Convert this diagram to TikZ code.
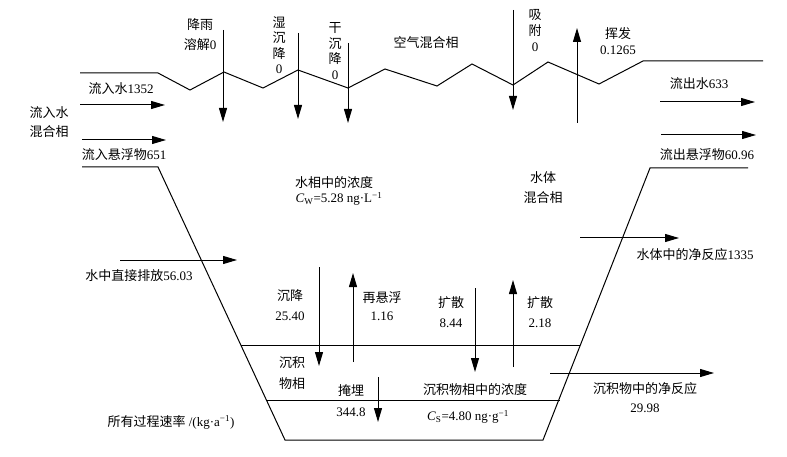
\documentclass[tikz,border=0pt]{standalone}
\usepackage{fontspec}
\setmainfont{Liberation Serif}
\newfontfamily\cjk{Noto Sans CJK SC}
\usetikzlibrary{arrows.meta}
\newcommand\zh[1]{{\cjk #1}}
\begin{document}
\begin{tikzpicture}[x=1pt,y=-1pt,
  lbl/.style={inner sep=0pt, font=\fontsize{13}{#1}\selectfont, align=center},
  lbl/.default=19,
  edgeline/.style={line width=1pt},
  flow/.style={line width=1pt, -{Triangle[length=14pt,width=8pt]}}]
\useasboundingbox (0,0) rectangle (787,457);

% air-water interface
\draw[edgeline] (80,73) -- (158,73) -- (190,90) -- (224,72) -- (263,88) -- (298,70)
  -- (348,88) -- (385,69) -- (437,86) -- (472,64) -- (513,85) -- (548,62)
  -- (599,84) -- (643,61) -- (763,61);

% water body and sediment outline
\draw[edgeline] (82,167) -- (158,167) -- (285,440) -- (543,440) -- (650,168) -- (748,168);
\draw[edgeline] (241,345) -- (580,345);
\draw[edgeline] (266,400) -- (560,400);

% arrow end points
\coordinate (rainA) at (223,30);   \coordinate (rainB) at (223,122);
\coordinate (wetA) at (298,33);    \coordinate (wetB) at (298,119);
\coordinate (dryA) at (348,43);    \coordinate (dryB) at (348,123);
\coordinate (adsA) at (513,10);    \coordinate (adsB) at (513,110);
\coordinate (volA) at (577,123);   \coordinate (volB) at (577,28);
\coordinate (inwA) at (80,105);    \coordinate (inwB) at (165,105);
\coordinate (inssA) at (82,140);   \coordinate (inssB) at (166,140);
\coordinate (outwA) at (660,102);  \coordinate (outwB) at (755,102);
\coordinate (outssA) at (661,135); \coordinate (outssB) at (756,135);
\coordinate (dirA) at (120,260);   \coordinate (dirB) at (237,260);
\coordinate (netwA) at (580,238);  \coordinate (netwB) at (679,238);
\coordinate (setA) at (319,267);   \coordinate (setB) at (319,366);
\coordinate (resA) at (353,362);   \coordinate (resB) at (353,273);
\coordinate (dfaA) at (475,288);   \coordinate (dfaB) at (475,372);
\coordinate (dfbA) at (513,367);   \coordinate (dfbB) at (513,280);
\coordinate (netsA) at (550,373);  \coordinate (netsB) at (714,373);
\coordinate (burA) at (378,377);   \coordinate (burB) at (378,422);

\foreach \a in {rain,wet,dry,ads,vol,inw,inss,outw,outss,dir,netw,set,res,dfa,dfb,nets,bur}
  \draw[flow] (\a A) -- (\a B);

% labels
\node[lbl=20] (tRain) at (200,35) {\zh{降雨}\\\zh{溶解}0};
\node[lbl=15.5] (tWet) at (279,45) {\zh{湿}\\\zh{沉}\\\zh{降}\\0};
\node[lbl=15.5] (tDry) at (335,51) {\zh{干}\\\zh{沉}\\\zh{降}\\0};
\node[lbl] (tAir) at (426,43) {\zh{空气混合相}};
\node[lbl=16] (tAds) at (535,31) {\zh{吸}\\\zh{附}\\0};
\node[lbl=16] (tVol) at (618,41) {\zh{挥发}\\0.1265};
\node[lbl] (tInW) at (121,89) {\zh{流入水}1352};
\node[lbl=19] (tInMix) at (49,122) {\zh{流入水}\\\zh{混合相}};
\node[lbl] (tInSS) at (124,155) {\zh{流入悬浮物}651};
\node[lbl] (tOutW) at (699,84) {\zh{流出水}633};
\node[lbl] (tOutSS) at (707,155) {\zh{流出悬浮物}60.96};
\node[lbl] (tConcW) at (334,183) {\zh{水相中的浓度}};
\node[lbl] (tCw) at (339,199) {\textit{C}\textsubscript{W}=5.28 ng·L\textsuperscript{−1}};
\node[lbl=20] (tWater) at (543,188) {\zh{水体}\\\zh{混合相}};
\node[lbl] (tNetW) at (695,255) {\zh{水体中的净反应}1335};
\node[lbl] (tDir) at (139,276) {\zh{水中直接排放}56.03};
\node[lbl=20] (tSet) at (290,305) {\zh{沉降}\\25.40};
\node[lbl=18] (tRes) at (382,306) {\zh{再悬浮}\\1.16};
\node[lbl=20] (tDfa) at (451,312) {\zh{扩散}\\8.44};
\node[lbl=20] (tDfb) at (540,312) {\zh{扩散}\\2.18};
\node[lbl=21] (tSed) at (292,373) {\zh{沉积}\\\zh{物相}};
\node[lbl=21] (tBur) at (351,401) {\zh{掩埋}\\344.8};
\node[lbl] (tConcS) at (475,390) {\zh{沉积物相中的浓度}};
\node[lbl] (tCs) at (468,417) {\textit{C}\textsubscript{S}=4.80 ng·g\textsuperscript{−1}};
\node[lbl=19] (tNetS) at (645,398) {\zh{沉积物中的净反应}\\29.98};
\node[lbl] (tUnit) at (171,422) {\zh{所有过程速率} /(kg·a\textsuperscript{−1})};
\end{tikzpicture}
\end{document}
